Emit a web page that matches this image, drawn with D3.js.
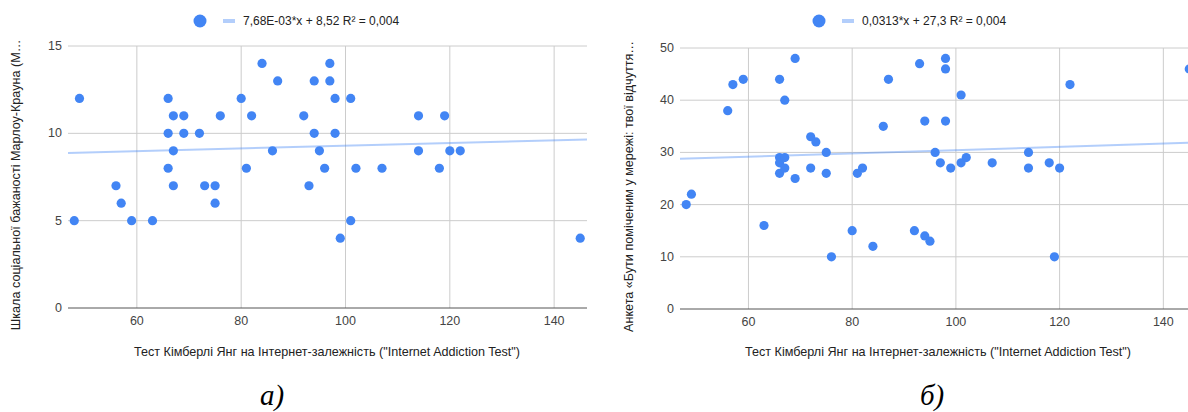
<!DOCTYPE html>
<html>
<head>
<meta charset="utf-8">
<script src="https://cdn.jsdelivr.net/npm/d3@7"></script>
<style>
    body { margin: 0; background: #fff; }
    #chart-svg { width: 1188px; height: 412px; display: block; }
    text { font-family: Arial, "Liberation Sans", sans-serif; }
    .caption { font-family: "Liberation Serif", "Times New Roman", serif; font-style: italic; }
</style>
</head>
<body>
<svg id="chart-svg" width="1188" height="412"></svg>
<script>
    // shared x values (Internet Addiction Test)
    const xTicks = [60, 80, 100, 120, 140];
    const xDomain = [46.8, 146.3];

    // chart а) social desirability
    const leftX = [48, 49, 56, 57, 59, 63, 66, 66, 66, 67, 67, 67, 69, 69, 72, 73, 75, 75, 76, 80, 81, 82, 84, 86, 87,
        92, 93, 94, 94, 95, 96, 97, 97, 98, 98, 99, 101, 101, 102, 107, 114, 114, 118, 119, 120, 122, 145];
    const leftY = [5, 12, 7, 6, 5, 5, 12, 10, 8, 11, 9, 7, 11, 10, 10, 7, 7, 6, 11, 12, 8, 11, 14, 9, 13,
        11, 7, 13, 10, 9, 8, 14, 13, 12, 10, 4, 12, 5, 8, 8, 11, 9, 8, 11, 9, 9, 4];
    const leftTicks = [0, 5, 10, 15];
    const leftTrend = [7.68e-3, 8.52];

    // chart б) "being noticed online"
    const rightX = [48, 49, 56, 57, 59, 63, 66, 67, 69, 66, 66, 67, 66, 67, 69, 72, 73, 72, 75, 75, 76, 80, 81, 82, 84, 86, 87,
        93, 98, 98, 101, 94, 98, 96, 97, 99, 101, 102, 107, 114, 114, 118, 120, 122, 92, 94, 95, 119, 145];
    const rightY = [20, 22, 38, 43, 44, 16, 44, 40, 48, 29, 28, 29, 26, 27, 25, 33, 32, 27, 30, 26, 10, 15, 26, 27, 12, 35, 44,
        47, 48, 46, 41, 36, 36, 30, 28, 27, 28, 29, 28, 30, 27, 28, 27, 43, 15, 14, 13, 10, 46];
    const rightTicks = [0, 10, 20, 30, 40, 50];
    const rightTrend = [0.0313, 27.3];

    const xTitle = 'Тест Кімберлі Янг на Інтернет-залежність ("Internet Addiction Test")';

    const svg = d3.select("#chart-svg");

    function drawChart(opt) {
        let g = svg.append("g");
        let x = d3.scaleLinear().domain(xDomain).range([opt.left, opt.right]);
        let y = d3.scaleLinear().domain([0, d3.max(opt.yTicks)]).range([opt.bottom, opt.top]);

        // grid
        g.selectAll(".hgrid").data(opt.yTicks.filter(d => d > 0)).join("line")
            .attr("x1", opt.left).attr("x2", opt.right)
            .attr("y1", d => y(d)).attr("y2", d => y(d))
            .attr("stroke", "#cccccc").attr("stroke-width", 1);
        g.selectAll(".vgrid").data(xTicks).join("line")
            .attr("x1", d => x(d)).attr("x2", d => x(d))
            .attr("y1", opt.top).attr("y2", opt.bottom)
            .attr("stroke", "#cccccc").attr("stroke-width", 1);
        g.append("line")
            .attr("x1", opt.left).attr("x2", opt.right)
            .attr("y1", y(0)).attr("y2", y(0))
            .attr("stroke", "#555").attr("stroke-width", 1);

        // tick labels
        g.selectAll(".ylab").data(opt.yTicks).join("text")
            .attr("x", opt.left - 6).attr("y", d => y(d) + 4)
            .attr("text-anchor", "end").attr("font-size", 12.5).attr("fill", "#444")
            .text(d => d);
        g.selectAll(".xlab").data(xTicks).join("text")
            .attr("x", d => x(d)).attr("y", opt.bottom + 17)
            .attr("text-anchor", "middle").attr("font-size", 12.5).attr("fill", "#444")
            .text(d => d);

        // trend line
        let tl = d3.line().x(d => x(d)).y(d => y(opt.trend[0] * d + opt.trend[1]));
        g.append("path").datum(xDomain).attr("d", tl)
            .attr("fill", "none").attr("stroke", "#4285f4").attr("stroke-opacity", 0.4).attr("stroke-width", 2);

        // points
        g.selectAll(".pt").data(opt.xs.map((v, i) => [v, opt.ys[i]])).join("circle")
            .attr("cx", d => x(d[0])).attr("cy", d => y(d[1])).attr("r", 4.6)
            .attr("fill", "#4285f4");

        // axis titles
        g.append("text")
            .attr("x", (opt.titleX)).attr("y", 356)
            .attr("text-anchor", "middle").attr("font-size", 12.6).attr("fill", "#222")
            .text(xTitle);
        g.append("text")
            .attr("transform", `translate(${opt.yTitleX},${(opt.top + opt.bottom) / 2 + 8}) rotate(-90)`)
            .attr("text-anchor", "middle").attr("font-size", 12.6).attr("fill", "#222")
            .text(opt.yTitle);

        // legend
        g.append("circle").attr("cx", opt.legendX).attr("cy", 21).attr("r", 6.5).attr("fill", "#4285f4");
        g.append("line")
            .attr("x1", opt.legendX + 23).attr("x2", opt.legendX + 35)
            .attr("y1", 21).attr("y2", 21)
            .attr("stroke", "#4285f4").attr("stroke-opacity", 0.4).attr("stroke-width", 4);
        g.append("text")
            .attr("x", opt.legendX + 43).attr("y", 25)
            .attr("font-size", 12).attr("fill", "#222")
            .text(opt.legend);

        // caption
        svg.append("text").attr("class", "caption")
            .attr("x", opt.captionX).attr("y", 405)
            .attr("text-anchor", "middle").attr("font-size", 29).attr("fill", "#000")
            .text(opt.caption);
    }

    drawChart({
        left: 68, right: 587, top: 46, bottom: 308,
        xs: leftX, ys: leftY, yTicks: leftTicks, trend: leftTrend,
        yTitle: "Шкала соціальної бажаності Марлоу-Крауна (М…",
        yTitleX: 20, titleX: 327,
        legendX: 200, legend: "7,68E-03*x + 8,52 R² = 0,004",
        captionX: 272, caption: "а)"
    });

    drawChart({
        left: 680, right: 1196, top: 48, bottom: 309,
        xs: rightX, ys: rightY, yTicks: rightTicks, trend: rightTrend,
        yTitle: "Анкета «Бути поміченим у мережі: твої відчуття…",
        yTitleX: 633, titleX: 938,
        legendX: 819, legend: "0,0313*x + 27,3 R² = 0,004",
        captionX: 932, caption: "б)"
    });
</script>
</body>
</html>
